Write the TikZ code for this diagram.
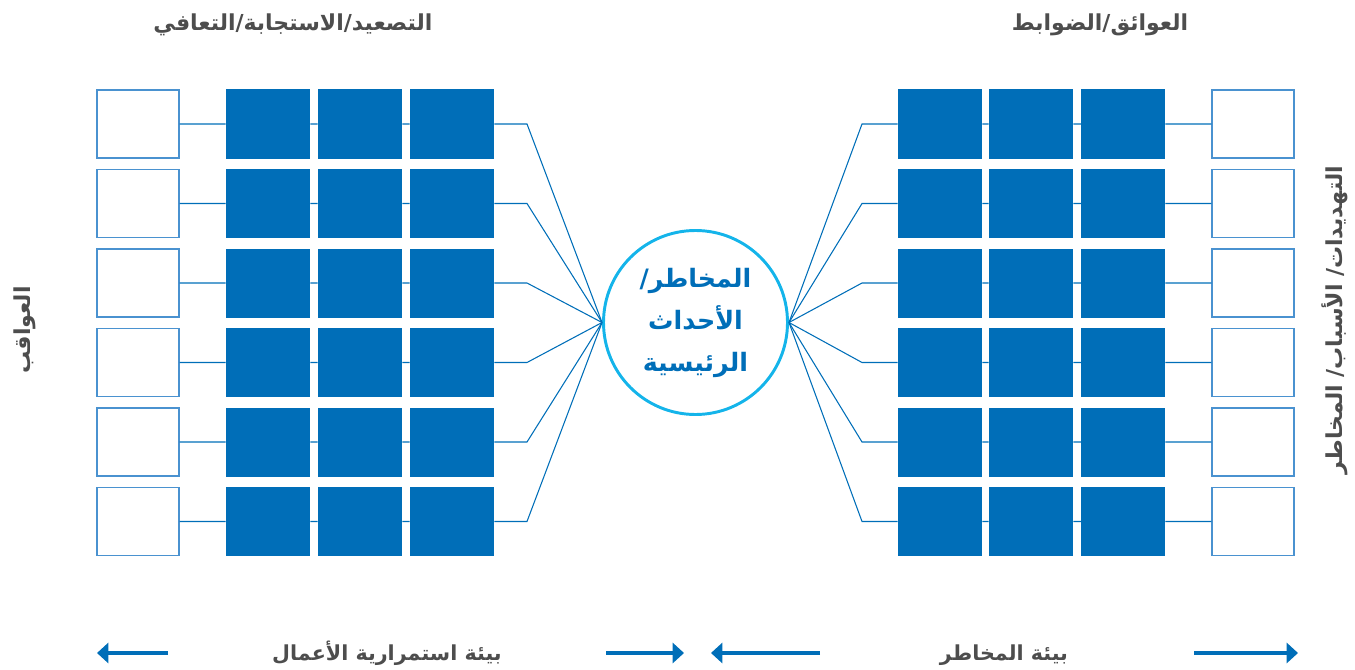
\documentclass[tikz,border=0pt]{standalone}
\usepackage{fontspec}
\newfontfamily\arabicfont[Script=Arabic]{DejaVu Sans}
\TeXXeTstate=1
\usetikzlibrary{arrows.meta}
\definecolor{boxblue}{HTML}{006EB8}
\definecolor{ringcyan}{HTML}{14B4EA}
\definecolor{titlegray}{HTML}{4D4D4D}
\definecolor{edgeblue}{HTML}{4A92D0}

\begin{document}
\begin{tikzpicture}[x=0.75pt,y=0.75pt,
  whitebox/.style={draw=edgeblue, line width=1.1pt, fill=white,
    minimum width=61.5pt, minimum height=51pt, inner sep=0pt},
  bluebox/.style={fill=boxblue, minimum width=63pt, minimum height=51.75pt, inner sep=0pt},
  hub/.style={circle, draw=ringcyan, line width=2.2pt, minimum size=138pt, inner sep=0pt,
    text=boxblue, align=center, font=\arabicfont\bfseries\fontsize{19}{31.5}\selectfont},
  link/.style={draw=boxblue, line width=0.8pt},
  heading/.style={text=titlegray, font=\arabicfont\bfseries\fontsize{16.5}{18}\selectfont},
  envlabel/.style={text=titlegray, font=\arabicfont\bfseries\fontsize{15.5}{18}\selectfont},
  envarrow/.style={draw=boxblue, line width=2.4pt, -{Triangle[length=8.5pt,width=15pt]}}]

  \useasboundingbox (0,0) rectangle (1355,669);

  % central circle
  \node [hub] (hub) at (695.5,346.5)
    {\beginR المخاطر/\endR\\ \beginR الأحداث\endR\\ \beginR الرئيسية\endR};

  % rows of boxes on both sides
  \foreach \i in {0,...,5}{
    \pgfmathsetmacro\yrow{545-79.5*\i}
    \node [whitebox] (lw\i) at (138,\yrow) {};
    \node [bluebox]  (la\i) at (268,\yrow) {};
    \node [bluebox]  (lb\i) at (360,\yrow) {};
    \node [bluebox]  (lc\i) at (452,\yrow) {};
    \coordinate (lk\i) at (527,\yrow);

    \node [bluebox]  (ra\i) at (940,\yrow) {};
    \node [bluebox]  (rb\i) at (1031,\yrow) {};
    \node [bluebox]  (rc\i) at (1123,\yrow) {};
    \node [whitebox] (rw\i) at (1253,\yrow) {};
    \coordinate (rk\i) at (862,\yrow);

    \draw [link] (lw\i) -- (la\i) -- (lb\i) -- (lc\i) -- (lk\i) -- (hub.west);
    \draw [link] (rw\i) -- (rc\i) -- (rb\i) -- (ra\i) -- (rk\i) -- (hub.east);
  }

  % headings
  \node [heading] (tleft)  at (293,644) {\beginR التصعيد/الاستجابة/التعافي\endR};
  \node [heading] (tright) at (1100,644) {\beginR العوائق/الضوابط\endR};
  \node [heading, rotate=90] (sleft)  at (25,339) {\beginR العواقب\endR};
  \node [heading, rotate=90] (sright) at (1335,349) {\beginR التهديدات/ الأسباب/ المخاطر\endR};

  % environments at the bottom
  \node [envlabel, anchor=base] (bcont) at (387,9) {\beginR بيئة استمرارية الأعمال\endR};
  \node [envlabel, anchor=base] (brisk) at (1004,9) {\beginR بيئة المخاطر\endR};

  \coordinate (a1) at (168,16);  \coordinate (a1h) at (97,16);
  \coordinate (a2) at (606,16);  \coordinate (a2h) at (684,16);
  \coordinate (a3) at (820,16);  \coordinate (a3h) at (711,16);
  \coordinate (a4) at (1194,16); \coordinate (a4h) at (1298,16);
  \draw [envarrow] (a1) -- (a1h);
  \draw [envarrow] (a2) -- (a2h);
  \draw [envarrow] (a3) -- (a3h);
  \draw [envarrow] (a4) -- (a4h);
\end{tikzpicture}
\end{document}
